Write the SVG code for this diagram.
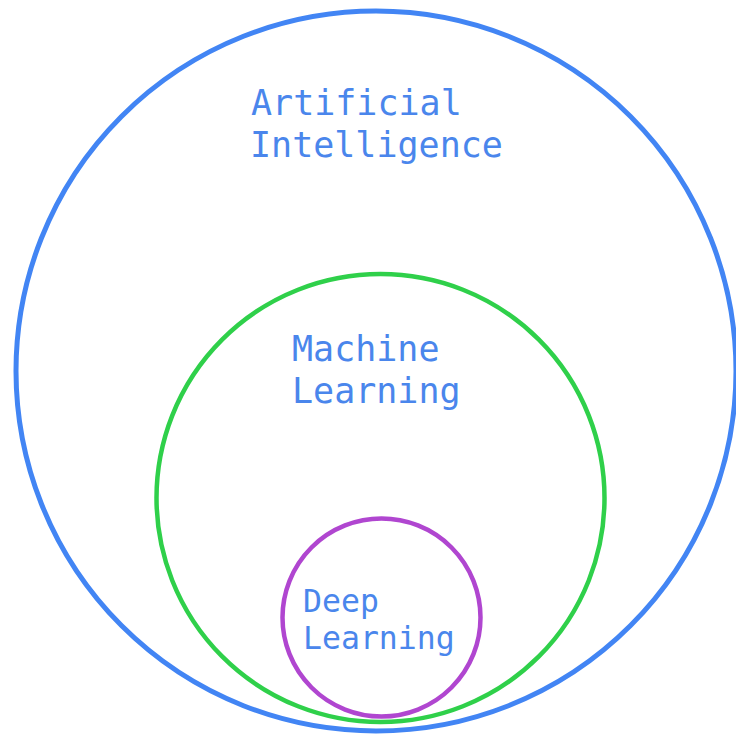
<svg xmlns="http://www.w3.org/2000/svg" width="736" height="734" viewBox="0 0 736 734">
<style>
.c{fill:none}
.t{font-family:"DejaVu Sans Mono","Liberation Mono",monospace;fill:#4a86ec}
</style>
<rect width="736" height="734" fill="#ffffff"/>
<g id="ai">
<circle class="c" cx="376" cy="371" r="360" stroke="#4285f4" stroke-width="5"/>
<text class="t" x="251" y="115" font-size="35">Artificial</text>
<text class="t" x="250" y="157" font-size="35">Intelligence</text>
</g>
<g id="ml">
<circle class="c" cx="380.5" cy="498" r="224" stroke="#2fd04a" stroke-width="4.5"/>
<text class="t" x="292" y="361" font-size="35">Machine</text>
<text class="t" x="292" y="403" font-size="35">Learning</text>
</g>
<g id="dl">
<circle class="c" cx="381.5" cy="617.5" r="99" stroke="#b046d0" stroke-width="4.5"/>
<text class="t" x="303" y="612" font-size="31.5">Deep</text>
<text class="t" x="303" y="649" font-size="31.5">Learning</text>
</g>
<g id="connectors"></g>
</svg>
